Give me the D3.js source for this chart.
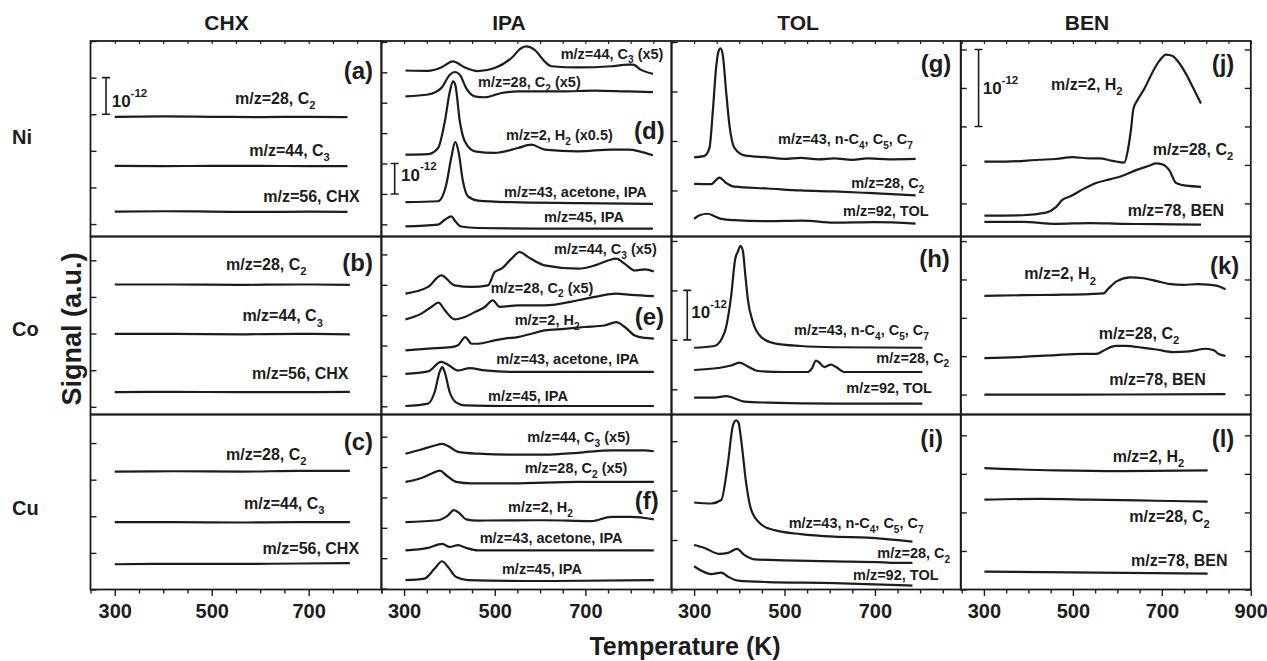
<!DOCTYPE html>
<html>
<head>
<meta charset="utf-8">
<script src="https://cdn.jsdelivr.net/npm/d3@7"></script>
<style>
  body { margin: 0; background: #fff; }
  text { font-family: "Liberation Sans", Arial, sans-serif; font-weight: bold; fill: #1c1c1c; }
</style>
</head>
<body>
<svg id="chart"></svg>
<script>
// ---- data -------------------------------------------------------------
const columns = ["CHX", "IPA", "TOL", "BEN"];
const rows = ["Ni", "Co", "Cu"];
const letters = [["(a)", "(b)", "(c)"], ["(d)", "(e)", "(f)"], ["(g)", "(h)", "(i)"], ["(j)", "(k)", "(l)"]];
const tempDomain = [[250, 850], [250, 890], [250, 890], [248, 900]];
const tempLabels = [[300, 500, 700], [300, 500, 700], [300, 500, 700], [300, 500, 700, 900]];
// signal in units of 1e-12 (length of the scale bar)
const signalDomain = [
  [[-0.34, 5.0], [-0.21, 4.65], [0, 4.78]],
  [[-0.40, 6.03], [-0.27, 5.59], [-0.03, 5.73]],
  [[-0.93, 3.02], [-0.51, 3.09], [0, 3.54]],
  [[-0.43, 2.11], [-0.26, 2.06], [0, 2.27]]
];
const signalStep = [1, 1, 1, 0.5];
// [col, row, T, from, to, textT, textV]
const scaleBars = [[0, 0, 282, 3, 4, 293.7, 3.2], [1, 0, 279.3, 1, 2, 293.2, 1.44],
                   [2, 1, 284.9, 1, 2, 293.8, 1.44], [3, 0, 288, 1, 2, 297.2, 1.42]];

const chxNi = [
  {label: "m/z=28, C_2", at: [548, 3.28], values: [[300, 2.93], [400, 2.94], [500, 2.93], [600, 2.92], [700, 2.93], [780, 2.92]]},
  {label: "m/z=44, C_3", at: [577.6, 1.85], values: [[300, 1.59], [400, 1.58], [500, 1.59], [600, 1.59], [700, 1.58], [780, 1.58]]},
  {label: "m/z=56, CHX", at: [606.4, 0.60], values: [[300, 0.34], [400, 0.35], [500, 0.34], [600, 0.33], [700, 0.34], [780, 0.33]]}
];
const chxCo = [
  {label: "m/z=28, C_2", at: [529.5, 3.73], values: [[300, 3.34], [420, 3.34], [560, 3.33], [680, 3.34], [785, 3.33]]},
  {label: "m/z=44, C_3", at: [563.3, 2.33], values: [[300, 1.99], [420, 1.99], [560, 1.98], [680, 1.99], [785, 1.98]]},
  {label: "m/z=56, CHX", at: [583.1, 0.75], values: [[300, 0.40], [420, 0.41], [560, 0.40], [680, 0.40], [785, 0.41]]}
];
const chxCu = [
  {label: "m/z=28, C_2", at: [529.5, 3.54], values: [[300, 3.22], [420, 3.23], [560, 3.22], [680, 3.24], [785, 3.24]]},
  {label: "m/z=44, C_3", at: [566.6, 2.19], values: [[300, 1.84], [420, 1.84], [560, 1.83], [680, 1.84], [785, 1.84]]},
  {label: "m/z=56, CHX", at: [605, 0.98], values: [[300, 0.69], [420, 0.70], [560, 0.70], [680, 0.71], [785, 0.72]]}
];
const ipaNi = [
  {label: "m/z=44, C_3 (x5)", at: [645.5, 5.45], values: [[303, 5.06], [353, 5.05], [382, 5.16], [408, 5.36], [434, 5.16], [463, 5.04], [500, 5.14], [537, 5.47], [559, 5.80], [570, 5.85], [588, 5.74], [610, 5.36], [625, 5.20], [684, 5.16], [757, 5.20], [794, 5.25], [805, 5.25], [823, 5.08], [849, 4.95]]},
  {label: "m/z=28, C_2 (x5)", at: [463.1, 4.52], values: [[303, 4.21], [353, 4.27], [382, 4.48], [401, 4.92], [412, 5.01], [423, 4.92], [437, 4.48], [456, 4.21], [478, 4.18], [515, 4.32], [551, 4.37], [588, 4.37], [647, 4.37], [721, 4.40], [794, 4.37], [849, 4.35]]},
  {label: "m/z=2, H_2 (x0.5)", at: [524.9, 2.77], values: [[303, 2.29], [353, 2.31], [375, 2.51], [390, 3.39], [401, 4.37], [408, 4.70], [413, 4.59], [423, 3.39], [434, 2.73], [456, 2.40], [500, 2.35], [551, 2.51], [581, 2.62], [610, 2.46], [684, 2.40], [757, 2.46], [794, 2.46], [849, 2.27]]},
  {label: "m/z=43, acetone, IPA", at: [520.5, 0.90], values: [[303, 0.73], [375, 0.76], [393, 1.30], [404, 2.18], [413, 2.71], [420, 2.40], [430, 1.41], [441, 0.92], [463, 0.78], [537, 0.73], [684, 0.70], [849, 0.67]]},
  {label: "m/z=45, IPA", at: [608.7, 0.08], values: [[303, -0.07], [375, -0.01], [390, 0.15], [404, 0.26], [413, 0.10], [426, -0.07], [463, -0.12], [610, -0.14], [849, -0.14]]}
];
const ipaCo = [
  {label: "m/z=44, C_3 (x5)", at: [630.8, 5.0], values: [[303, 3.71], [353, 3.93], [382, 4.31], [412, 3.98], [449, 3.93], [485, 3.98], [500, 4.42], [515, 4.53], [537, 4.86], [555, 5.08], [574, 4.91], [610, 4.64], [684, 4.53], [721, 4.64], [750, 4.80], [768, 4.86], [787, 4.69], [809, 4.47], [831, 4.51], [851, 4.44]]},
  {label: "m/z=28, C_2 (x5)", at: [491.1, 3.74], values: [[303, 2.86], [338, 3.05], [360, 3.27], [376, 3.41], [390, 3.16], [412, 2.86], [434, 2.94], [456, 3.10], [478, 3.27], [496, 3.49], [511, 3.27], [551, 3.32], [610, 3.32], [684, 3.49], [720, 3.60], [768, 3.71], [801, 3.67], [851, 3.63]]},
  {label: "m/z=2, H_2", at: [544.1, 2.68], values: [[303, 1.84], [353, 1.90], [404, 1.95], [419, 2.01], [435, 2.28], [449, 2.06], [463, 2.06], [500, 2.17], [522, 2.23], [551, 2.28], [581, 2.39], [610, 2.50], [654, 2.55], [698, 2.61], [742, 2.66], [768, 2.77], [787, 2.61], [809, 2.33], [831, 2.25], [851, 2.23]]},
  {label: "m/z=43, acetone, IPA", at: [503.5, 1.38], values: [[303, 1.07], [353, 1.15], [382, 1.46], [397, 1.37], [419, 1.18], [445, 1.26], [478, 1.18], [537, 1.13], [610, 1.13], [851, 1.13]]},
  {label: "m/z=45, IPA", at: [485.2, 0.18], values: [[303, 0.01], [353, 0.09], [367.5, 0.47], [378.5, 1.13], [384.4, 1.29], [389.6, 1.13], [400.6, 0.47], [415.3, 0.12], [433.7, 0.03], [537, 0.01], [851, 0.01]]}
];
const ipaCu = [
  {label: "m/z=44, C_3 (x5)", at: [571.9, 4.81], values: [[303, 4.44], [338, 4.58], [367.5, 4.71], [383.7, 4.76], [400.6, 4.66], [419, 4.50], [463, 4.44], [536.6, 4.41], [610, 4.41], [683.7, 4.47], [757, 4.55], [830.7, 4.55], [851, 4.52]]},
  {label: "m/z=28, C_2 (x5)", at: [566.1, 3.79], values: [[303, 3.51], [338, 3.64], [360, 3.78], [379, 3.88], [393, 3.73], [415, 3.51], [448, 3.46], [537, 3.46], [684, 3.51], [851, 3.51]]},
  {label: "m/z=2, H_2", at: [529.3, 2.51], values: [[303, 2.19], [375, 2.25], [397, 2.41], [410, 2.58], [423, 2.47], [437, 2.28], [463, 2.24], [610, 2.25], [713, 2.22], [757, 2.36], [801, 2.36], [851, 2.28]]},
  {label: "m/z=43, acetone, IPA", at: [466.9, 1.49], values: [[303, 1.26], [353, 1.34], [384, 1.47], [401, 1.37], [419, 1.43], [437, 1.34], [463, 1.26], [610, 1.26], [851, 1.26]]},
  {label: "m/z=45, IPA", at: [516, 0.48], values: [[303, 0.28], [345, 0.33], [367.5, 0.66], [383.7, 0.90], [397, 0.71], [415, 0.38], [441, 0.28], [610, 0.25], [851, 0.28]]}
];
const tolNi = [
  {label: "m/z=43, n-C_4, C_5, C_7", at: [485.6, 0.94], values: [[300, 0.67], [323, 0.70], [334, 0.86], [341.5, 1.61], [349, 2.51], [354, 2.81], [358.5, 2.87], [363.6, 2.73], [371, 1.98], [378.3, 1.31], [389.3, 0.86], [411.4, 0.71], [463, 0.67], [500, 0.64], [536, 0.66], [575, 0.63], [610, 0.65], [650, 0.62], [683.5, 0.65], [730, 0.63], [790, 0.64]]},
  {label: "m/z=28, C_2", at: [647.8, 0.04], values: [[300, 0.135], [338, 0.13], [356, 0.26], [371, 0.15], [389, 0.076], [463, 0.04], [536, 0.0], [610, -0.02], [683.5, -0.05], [790, -0.10]]},
  {label: "m/z=92, TOL", at: [629.4, -0.52], values: [[300, -0.575], [312, -0.50], [330.5, -0.47], [345, -0.52], [360, -0.575], [389, -0.60], [463, -0.62], [540, -0.61], [610, -0.65], [700, -0.64], [790, -0.67]]}
];
const tolCo = [
  {label: "m/z=43, n-C_4, C_5, C_7", at: [521, 1.10], values: [[300, 0.84], [345, 0.875], [367, 1.14], [382, 1.89], [391, 2.64], [397, 2.79], [402.6, 2.90], [408, 2.79], [413, 2.34], [419, 1.81], [430, 1.36], [448, 1.06], [478, 0.93], [536, 0.875], [610, 0.85], [805, 0.84]]},
  {label: "m/z=28, C_2", at: [703.1, 0.54], values: [[300, 0.39], [353, 0.43], [382, 0.48], [400, 0.54], [419, 0.46], [441, 0.37], [500, 0.35], [551, 0.35], [561, 0.43], [569.5, 0.58], [577, 0.54], [588, 0.45], [603, 0.50], [614, 0.45], [632, 0.35], [683.5, 0.35], [805, 0.35]]},
  {label: "m/z=92, TOL", at: [636.7, -0.07], values: [[300, -0.17], [345, -0.17], [371, -0.14], [386, -0.17], [411, -0.25], [463, -0.27], [610, -0.29], [805, -0.29]]}
];
const tolCu = [
  {label: "m/z=43, n-C_4, C_5, C_7", at: [509.3, 1.24], values: [[300, 1.76], [338, 1.74], [360, 1.81], [374.6, 2.54], [385.7, 3.31], [393, 3.42], [398, 3.38], [405.5, 2.92], [415, 2.16], [426, 1.62], [448, 1.32], [478, 1.20], [536, 1.12], [610, 1.07], [683.5, 1.05], [783, 0.97]]},
  {label: "m/z=28, C_2", at: [705.3, 0.63], values: [[300, 0.90], [323, 0.84], [356, 0.72], [375, 0.74], [395, 0.82], [411, 0.70], [433.5, 0.61], [500, 0.59], [610, 0.57], [720, 0.55], [742, 0.54], [783, 0.54]]},
  {label: "m/z=92, TOL", at: [651.5, 0.19], values: [[300, 0.47], [316, 0.38], [338, 0.31], [360, 0.34], [375, 0.26], [397, 0.18], [463, 0.15], [610, 0.13], [783, 0.08]]}
];
const benNi = [
  {label: "m/z=2, H_2", at: [450.8, 1.47], values: [[301, 0.543], [350, 0.543], [424.5, 0.567], [462, 0.577], [499.5, 0.60], [537, 0.586], [559.5, 0.586], [589, 0.553], [615.7, 0.529], [623, 0.673], [630.6, 0.96], [636, 1.226], [645.6, 1.346], [660.6, 1.49], [679.3, 1.707], [694.3, 1.851], [709.3, 1.933], [724.3, 1.914], [735.5, 1.85], [754.3, 1.683], [769.2, 1.515], [788, 1.298]]},
  {label: "m/z=28, C_2", at: [679.4, 0.63], values: [[301, -0.159], [387, -0.154], [439.5, -0.12], [462, -0.048], [477, 0.048], [495.7, 0.096], [522, 0.182], [552, 0.264], [582, 0.312], [612, 0.36], [642, 0.432], [672, 0.49], [687, 0.519], [702, 0.505], [717, 0.43], [732, 0.264], [754, 0.23], [788, 0.216]]},
  {label: "m/z=78, BEN", at: [623.2, -0.17], values: [[301, -0.24], [387, -0.24], [462, -0.265], [537, -0.255], [612, -0.265], [687, -0.27], [788, -0.275]]}
];
const benCo = [
  {label: "m/z=2, H_2", at: [390.8, 1.50], values: [[301, 1.286], [387, 1.295], [462, 1.30], [537, 1.31], [569, 1.319], [580, 1.382], [599, 1.478], [629, 1.526], [659, 1.516], [689, 1.478], [719, 1.439], [749, 1.43], [779, 1.439], [809, 1.43], [831, 1.406], [843, 1.372]]},
  {label: "m/z=28, C_2", at: [558, 0.73], values: [[301, 0.476], [387, 0.491], [462, 0.515], [522, 0.529], [551.5, 0.529], [566.5, 0.563], [581.5, 0.611], [596.4, 0.635], [619, 0.635], [656.6, 0.611], [689, 0.587], [724.3, 0.553], [761.5, 0.563], [799, 0.597], [817.8, 0.573], [829, 0.524], [843, 0.505]]},
  {label: "m/z=78, BEN", at: [581.9, 0.13], values: [[301, 0.0], [500, 0.0], [843, 0.005]]}
];
const benCu = [
  {label: "m/z=2, H_2", at: [589.5, 1.66], values: [[301, 1.574], [462, 1.545], [612, 1.535], [803, 1.545]]},
  {label: "m/z=28, C_2", at: [626.8, 0.87], values: [[301, 1.166], [424.5, 1.176], [537, 1.166], [687, 1.151], [803, 1.141]]},
  {label: "m/z=78, BEN", at: [630.6, 0.31], values: [[301, 0.231], [803, 0.207]]}
];
const series = [[chxNi, chxCo, chxCu], [ipaNi, ipaCo, ipaCu], [tolNi, tolCo, tolCu], [benNi, benCo, benCu]];

// ---- layout -----------------------------------------------------------
const W = 1267, H = 661;
const colX = [90.5, 381.4, 671.5, 960.8, 1250.8];
const rowY = [41, 236.5, 414.5, 589.5];
const labelSize = [16, 14.5, 14.5, 16];
// panel letter: [distance from right edge, baseline below panel top]
const letterPos = [[[8.4, 38], [8.4, 34.5], [8.4, 35.5]], [[6.8, 98], [7.5, 88.5], [12.8, 94.5]],
                   [[9.5, 31], [11, 30], [17.8, 32.5]], [[16.5, 31], [11.5, 37.5], [16.5, 32.5]]];
const headerX = [226.5, 509, 798, 1087];
const rowLabelY = [144, 336, 515];
const ink = "#1c1c1c";

const svg = d3.select("#chart").attr("width", W).attr("height", H);

function rich(sel, str, size) {
  const parts = str.split(/(_\w|\^\{[^}]*\})/).filter(Boolean);
  let cur = 0;
  parts.forEach(part => {
    let off = 0, fs = size, t = part;
    if (part[0] === "_") { off = size * 0.32; fs = size * 0.7; t = part.slice(1); }
    else if (part[0] === "^") { off = -size * 0.6; fs = size * 0.68; t = part.slice(2, -1); }
    sel.append("tspan").attr("dy", off - cur).style("font-size", fs + "px").text(t);
    cur = off;
  });
}

const line = d3.line().curve(d3.curveMonotoneX);

columns.forEach((colName, c) => {
  const x = d3.scaleLinear().domain(tempDomain[c]).range([colX[c], colX[c + 1]]);
  rows.forEach((rowName, r) => {
    const y = d3.scaleLinear().domain(signalDomain[c][r]).range([rowY[r + 1], rowY[r]]);
    const g = svg.append("g");

    // left ticks (inward)
    const step = signalStep[c];
    const [v0, v1] = y.domain();
    const tv = d3.range(Math.ceil(v0 / step - 1e-6) * step, v1 + 1e-6, step);
    const ax = g.append("g").attr("transform", `translate(${colX[c]},0)`)
      .call(d3.axisRight(y).tickValues(tv).tickSize(6).tickFormat(""));
    ax.select(".domain").remove();
    ax.attr("color", ink).selectAll("line").attr("stroke-width", 1.4);
    if (c === 3) {
      const axr = g.append("g").attr("transform", `translate(${colX[4]},0)`)
        .call(d3.axisLeft(y).tickValues(tv).tickSize(6).tickFormat(""));
      axr.select(".domain").remove();
      axr.attr("color", ink).selectAll("line").attr("stroke-width", 1.4);
    }
    const tt = d3.range(250, tempDomain[c][1] + 1, 50);
    if (r === 0) {
      const axt = g.append("g").attr("transform", `translate(0,${rowY[0]})`)
        .call(d3.axisBottom(x).tickValues(tt).tickSize(3).tickFormat(""));
      axt.select(".domain").remove();
      axt.attr("color", ink).selectAll("line").attr("stroke-width", 1.2);
    }
    if (r === 2) {
      const axb = g.append("g").attr("transform", `translate(0,${rowY[3]})`)
        .call(d3.axisBottom(x).tickValues(tt).tickSize(4).tickPadding(10)
          .tickFormat(d => tempLabels[c].includes(d) ? d : ""));
      axb.select(".domain").remove();
      axb.attr("color", ink);
      axb.selectAll(".tick line").attr("stroke-width", 1.4)
        .attr("y2", d => tempLabels[c].includes(d) ? 6.5 : 4);
      axb.selectAll("text").style("font-size", "20px").style("font-weight", "bold")
        .style("font-family", '"Liberation Sans", Arial, sans-serif').attr("fill", ink);
    }

    // traces + labels
    series[c][r].forEach(s => {
      g.append("path")
        .attr("d", line(s.values.map(d => [x(d[0]), y(d[1])])))
        .attr("fill", "none").attr("stroke", ink).attr("stroke-width", 2.2)
        .attr("stroke-linejoin", "round");
      const t = g.append("text").attr("x", x(s.at[0])).attr("y", y(s.at[1])).style("font-size", labelSize[c] + "px");
      rich(t, s.label, labelSize[c]);
    });

    // panel letter
    g.append("text").attr("x", colX[c + 1] - letterPos[c][r][0]).attr("y", rowY[r] + letterPos[c][r][1])
      .attr("text-anchor", "end").style("font-size", "24px").text(letters[c][r]);

    // frame
    g.append("rect").attr("x", colX[c]).attr("y", rowY[r])
      .attr("width", colX[c + 1] - colX[c]).attr("height", rowY[r + 1] - rowY[r])
      .attr("fill", "none").attr("stroke", ink).attr("stroke-width", 1.8);

    // scale bar
    scaleBars.filter(b => b[0] === c && b[1] === r).forEach(b => {
      const bx = x(b[2]), ya = y(b[3]), yb = y(b[4]);
      g.append("path").attr("d", `M${bx},${ya}V${yb}M${bx - 4},${ya}H${bx + 4}M${bx - 4},${yb}H${bx + 4}`)
        .attr("stroke", ink).attr("stroke-width", 1.6).attr("fill", "none");
      const t = g.append("text").attr("x", x(b[5])).attr("y", y(b[6])).style("font-size", "17px");
      rich(t, "10^{-12}", 17);
    });
  });

  svg.append("text").attr("x", headerX[c]).attr("y", 30).attr("text-anchor", "middle")
    .style("font-size", "21px").text(colName);
});

rows.forEach((rowName, r) => {
  svg.append("text").attr("x", 12).attr("y", rowLabelY[r]).style("font-size", "20px").text(rowName);
});

svg.append("text").attr("transform", "translate(81,329) rotate(-90)").attr("text-anchor", "middle")
  .style("font-size", "27px").text("Signal (a.u.)");
svg.append("text").attr("x", 685).attr("y", 655).attr("text-anchor", "middle")
  .style("font-size", "25px").text("Temperature (K)");
</script>
</body>
</html>
